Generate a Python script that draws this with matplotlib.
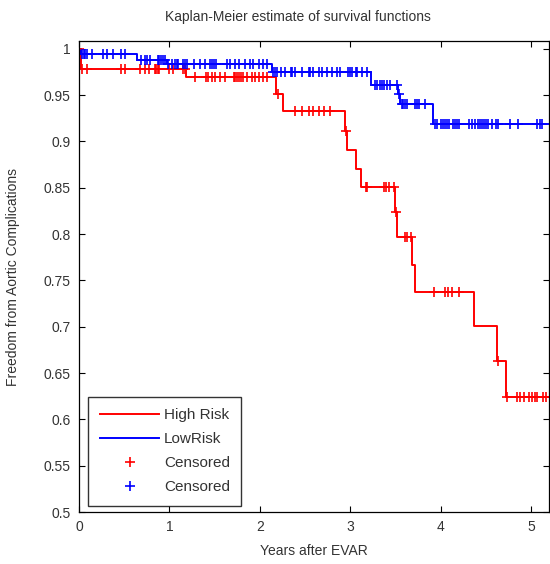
import numpy as np
import matplotlib
matplotlib.use("Agg")
import matplotlib.pyplot as plt

plt.rcParams['font.family'] = ['Liberation Sans', 'DejaVu Sans']

# Kaplan-Meier step data: time of each step (years) and survival after it
high_times = [0.0, 0.02, 1.18, 2.18, 2.26, 2.94, 2.96, 3.07, 3.12, 3.50, 3.52,
              3.685, 3.72, 4.37, 4.63, 4.72]
high_surv = [1.0, 0.978, 0.970, 0.951, 0.933, 0.911, 0.891, 0.870, 0.851, 0.824,
             0.797, 0.767, 0.737, 0.701, 0.663, 0.624]

low_times = [0.0, 0.025, 0.64, 0.97, 2.13, 3.23, 3.53, 3.555, 3.92]
low_surv = [1.0, 0.994, 0.988, 0.984, 0.975, 0.961, 0.951, 0.941, 0.919]

# censored observations (years)
high_cens = [0.0, 0.03, 0.085, 0.47, 0.51, 0.68, 0.73, 0.77, 0.84, 0.855, 0.87, 0.88,
             1.0, 1.04, 1.15, 1.17,
             1.28, 1.40, 1.43, 1.47, 1.51, 1.56, 1.62, 1.71, 1.73, 1.75, 1.77, 1.79,
             1.81, 1.86, 1.91, 1.95, 1.99, 2.04, 2.08,
             2.20, 2.39, 2.47, 2.54, 2.59, 2.65, 2.71, 2.78, 2.95,
             3.17, 3.19, 3.38, 3.40, 3.43, 3.49, 3.51, 3.61, 3.63, 3.67,
             3.93, 4.05, 4.08, 4.13, 4.20,
             4.64, 4.73, 4.85, 4.88, 4.92, 4.98, 5.01, 5.05, 5.07, 5.13, 5.17]

low_cens = [0.03, 0.05, 0.07, 0.085, 0.14, 0.27, 0.31, 0.38, 0.47, 0.51,
            0.69, 0.73, 0.75, 0.79, 0.87, 0.89, 0.91, 0.93, 0.95,
            0.99, 1.03, 1.06, 1.08, 1.10, 1.15, 1.17, 1.19, 1.27, 1.34, 1.39, 1.45,
            1.47, 1.49, 1.52, 1.64, 1.67, 1.73, 1.77, 1.84, 1.89, 1.93, 1.99, 2.04, 2.08,
            2.15, 2.17, 2.19, 2.24, 2.28, 2.34, 2.36, 2.39, 2.47, 2.54, 2.56, 2.59,
            2.65, 2.69, 2.74, 2.80, 2.85, 2.89, 2.98, 3.00, 3.02, 3.06, 3.08, 3.13, 3.19,
            3.28, 3.30, 3.33, 3.35, 3.38, 3.41, 3.44, 3.52, 3.54,
            3.57, 3.59, 3.61, 3.63, 3.72, 3.74, 3.76, 3.83,
            3.94, 3.96, 4.00, 4.03, 4.05, 4.07, 4.09, 4.14, 4.16, 4.18, 4.20,
            4.31, 4.35, 4.38, 4.42, 4.44, 4.46, 4.48, 4.50, 4.53, 4.57, 4.61, 4.64,
            4.77, 4.86, 5.07, 5.10, 5.12]

y_ticks = [0.5, 0.55, 0.6, 0.65, 0.7, 0.75, 0.8, 0.85, 0.9, 0.95, 1.0]
y_tick_labels = ['0.5', '0.55', '0.6', '0.65', '0.7', '0.75', '0.8', '0.85', '0.9', '0.95', '1']
x_ticks = [0, 1, 2, 3, 4, 5]


def surv_at(times, surv, t):
    idx = np.searchsorted(times, t, side='right') - 1
    return np.asarray(surv)[idx]


XMAX = 5.2
txt = '#333333'

fig = plt.figure(figsize=(5.5, 5.64), dpi=100)
ax = fig.add_axes([79 / 550, 52 / 564, 470 / 550, 471 / 564])

h_line, = ax.step(high_times + [XMAX + 0.1], high_surv + [high_surv[-1]], where='post',
                  color='red', lw=1.4, label='High Risk')
l_line, = ax.step(low_times + [XMAX + 0.1], low_surv + [low_surv[-1]], where='post',
                  color='blue', lw=1.4, label='LowRisk')
h_cens, = ax.plot(high_cens, surv_at(high_times, high_surv, high_cens), '+', color='red',
                  ms=7.5, mew=1.2, label='Censored')
l_cens, = ax.plot(low_cens, surv_at(low_times, low_surv, low_cens), '+', color='blue',
                  ms=7.5, mew=1.2, label='Censored')

ax.set_xlim(0, XMAX)
ax.set_ylim(0.5, 1.0085)
ax.set_xticks(x_ticks)
ax.set_xticklabels([str(x) for x in x_ticks])
ax.set_yticks(y_ticks)
ax.set_yticklabels(y_tick_labels)
ax.tick_params(direction='in', top=True, right=True, length=4, width=0.8,
               labelsize=10, labelcolor=txt, pad=6)
for s in ax.spines.values():
    s.set_linewidth(0.9)

ax.set_xlabel('Years after EVAR', fontsize=10, color=txt)
ax.xaxis.set_label_coords(0.5, -0.068)
ax.set_ylabel('Freedom from Aortic Complications', fontsize=10, color=txt)
ax.yaxis.set_label_coords(-0.125, 0.5)

fig.text(298 / 550, 1 - 17 / 564, 'Kaplan-Meier estimate of survival functions',
         ha='center', va='center', fontsize=10, color=txt)

leg = ax.legend(handles=[h_line, l_line, h_cens, l_cens], loc='lower left',
                bbox_to_anchor=(0.02, 0.013), borderaxespad=0, fontsize=11,
                frameon=True, fancybox=False, edgecolor='black', handlelength=3.9,
                labelspacing=0.66, borderpad=0.75, handletextpad=0.3)
leg.get_frame().set_linewidth(1.0)
for t in leg.get_texts():
    t.set_color(txt)

fig.savefig('out.png', dpi=100)
